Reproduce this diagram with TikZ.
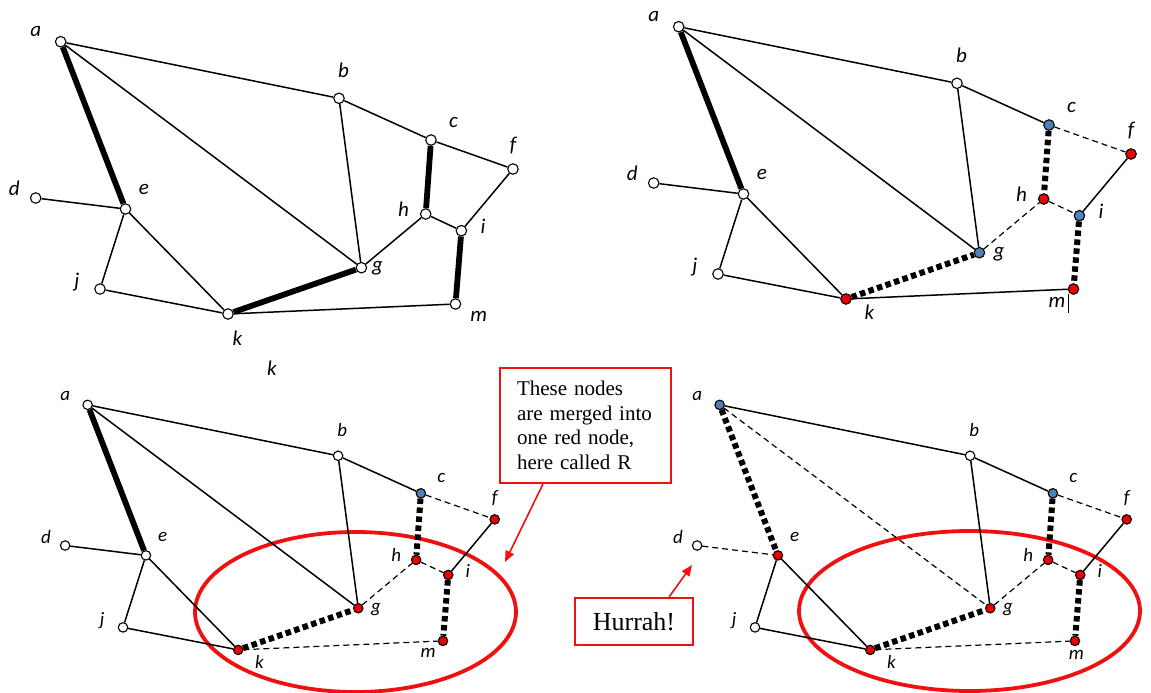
\documentclass[tikz,border=0pt]{standalone}
\usepackage{fontspec}
\setmainfont{Liberation Serif}
\newfontfamily\labelfont{Carlito}
\usetikzlibrary{arrows.meta, shapes.geometric}
\definecolor{nodered}{RGB}{236,0,0}
\definecolor{nodeblue}{RGB}{79,129,189}
\definecolor{markred}{RGB}{240,16,16}
\tikzset{
  vertex/.style={circle, draw=black, line width=1.1pt,
    minimum size=10.5pt, inner sep=0pt},
  wnode/.style={vertex, fill=white},
  rnode/.style={vertex, fill=nodered},
  bnode/.style={vertex, fill=nodeblue},
  lbl/.style={font=\labelfont\itshape\fontsize{21}{21}\selectfont, inner sep=0pt},
  link/.style={line width=1.5pt},
  boldlink/.style={line width=5.8pt},
  dashlink/.style={line width=1.2pt, dash pattern=on 6pt off 4pt},
  heavydash/.style={line width=6pt, dash pattern=on 5.5pt off 3.5pt},
  notebox/.style={rectangle, draw=markred, line width=2.2pt,
    fill=white, inner sep=0pt},
  pointer/.style={-{Triangle[length=11pt, width=9pt]}, draw=markred, line width=1.6pt},
  region/.style={ellipse, draw=markred, line width=3.8pt, inner sep=0pt}
}
% graph positions (first panel, pixels)
\newcommand{\vertexlist}{a/60.7/41.7, b/339/98.3, c/431/140, d/35.7/198,
  e/125.5/209, f/513/169, g/361.4/267.7, h/425.7/214, i/461.4/230.7,
  j/100/289, k/228/314, m/455.5/304}
\newcommand{\labelsfirst}{a/35.7/31.7, b/343.6/70, c/453.6/122.7, d/14.3/188,
  e/144/189, f/513/145.7, g/377.5/268, h/403.6/209, i/483/226,
  j/76.8/282, k/237.5/338, m/478.6/316}
\newcommand{\labelslater}{a/35.7/31.7, b/343.6/70, c/453.6/122.7, d/14.3/188,
  e/144/189, f/513/145.7, g/381/269, h/403.6/209, i/483/226,
  j/76.8/282, k/251.5/327, m/439/317}
\newcommand{\labelslast}{a/35.7/31.7, b/343.6/70, c/453.6/122.7, d/14.3/188,
  e/144/189, f/513/145.7, g/381/269, h/403.6/209, i/483/226,
  j/76.8/282, k/251.5/327, m/457/320}

\begin{document}
\begin{tikzpicture}[x=1pt, y=-1pt]
  \useasboundingbox (0,0) rectangle (1151,693);

  % merged regions
  \node[region, minimum width=321pt, minimum height=160pt] (mergeleft) at (355.5,612) {};
  \node[region, minimum width=341pt, minimum height=160pt] (mergeright) at (969.5,611) {};

  % panel 1
  \foreach \n/\x/\y in \vertexlist \coordinate (v1\n) at (\x,\y);
  \foreach \n in {a,b,c,d,e,f,g,h,i,j,k,m} \node[wnode] (p1\n) at (v1\n) {};
  \foreach \u/\v/\s in {a/b/link, a/e/boldlink, a/g/link, b/g/link, b/c/link,
      c/f/link, c/h/boldlink, d/e/link, e/j/link, e/k/link, j/k/link,
      k/g/boldlink, k/m/link, g/h/link, h/i/link, i/f/link, i/m/boldlink}
    \draw[\s] (p1\u) -- (p1\v);
  \foreach \n/\x/\y in \labelsfirst \node[lbl] (t1\n) at (\x,\y) {\n};
  \node[lbl] (strayk) at (272,368) {k};

  % panel 2
  \begin{scope}[shift={(618,-15)}]
    \foreach \n/\x/\y in \vertexlist \coordinate (v2\n) at (\x,\y);
    \foreach \n/\s in {a/wnode, b/wnode, c/bnode, d/wnode, e/wnode, f/rnode,
        g/bnode, h/rnode, i/bnode, j/wnode, k/rnode, m/rnode}
      \node[\s] (p2\n) at (v2\n) {};
    \foreach \u/\v/\s in {a/b/link, a/e/boldlink, a/g/link, b/g/link, b/c/link,
        c/f/dashlink, c/h/heavydash, d/e/link, e/j/link, e/k/link, j/k/link,
        k/g/heavydash, k/m/link, g/h/dashlink, h/i/dashlink, i/f/link, i/m/heavydash}
      \draw[\s] (p2\u) -- (p2\v);
    \foreach \n/\x/\y in \labelslater \node[lbl] (t2\n) at (\x,\y) {\n};
  \end{scope}
  \draw[line width=0.7pt] (1068,294) -- (1068,313);

  % panel 3
  \begin{scope}[shift={(33,367.3)}, scale=0.9, transform shape]
    \foreach \n/\x/\y in \vertexlist \coordinate (v3\n) at (\x,\y);
    \foreach \n/\s in {a/wnode, b/wnode, c/bnode, d/wnode, e/wnode, f/rnode,
        g/rnode, h/rnode, i/rnode, j/wnode, k/rnode, m/rnode}
      \node[\s] (p3\n) at (v3\n) {};
    \foreach \u/\v/\s in {a/b/link, a/e/boldlink, a/g/link, b/g/link, b/c/link,
        c/f/dashlink, c/h/heavydash, d/e/link, e/j/link, e/k/link, j/k/link,
        k/g/heavydash, k/m/dashlink, g/h/dashlink, h/i/dashlink, i/f/link, i/m/heavydash}
      \draw[\s] (p3\u) -- (p3\v);
    \foreach \n/\x/\y in \labelslater \node[lbl] (t3\n) at (\x,\y) {\n};
  \end{scope}

  % panel 4
  \begin{scope}[shift={(665,367.3)}, scale=0.9, transform shape]
    \foreach \n/\x/\y in \vertexlist \coordinate (v4\n) at (\x,\y);
    \foreach \n/\s in {a/bnode, b/wnode, c/bnode, d/wnode, e/rnode, f/rnode,
        g/rnode, h/rnode, i/rnode, j/wnode, k/rnode, m/rnode}
      \node[\s] (p4\n) at (v4\n) {};
    \foreach \u/\v/\s in {a/b/link, a/e/heavydash, a/g/dashlink, b/g/link, b/c/link,
        c/f/dashlink, c/h/heavydash, d/e/dashlink, e/j/link, e/k/link, j/k/link,
        k/g/heavydash, k/m/dashlink, g/h/dashlink, h/i/dashlink, i/f/link, i/m/heavydash}
      \draw[\s] (p4\u) -- (p4\v);
    \foreach \n/\x/\y in \labelslast \node[lbl] (t4\n) at (\x,\y) {\n};
  \end{scope}

  % notes
  \node[notebox, minimum width=171pt, minimum height=115pt, text width=137pt,
    align=left, font=\fontsize{21}{24.5}\selectfont] (merged) at (585.5,425.5)
    {These nodes\\ are merged into\\ one red node,\\ here called R};
  \node[notebox, minimum width=118pt, minimum height=47pt,
    font=\fontsize{26}{26}\selectfont] (hurrah) at (634,621.5) {Hurrah!};
  \coordinate (mergetip) at (505,562);
  \coordinate (hurrahtip) at (692,565);
  \draw[pointer] (merged.234) -- (mergetip);
  \draw[pointer] (hurrah.35) -- (hurrahtip);
\end{tikzpicture}
\end{document}
